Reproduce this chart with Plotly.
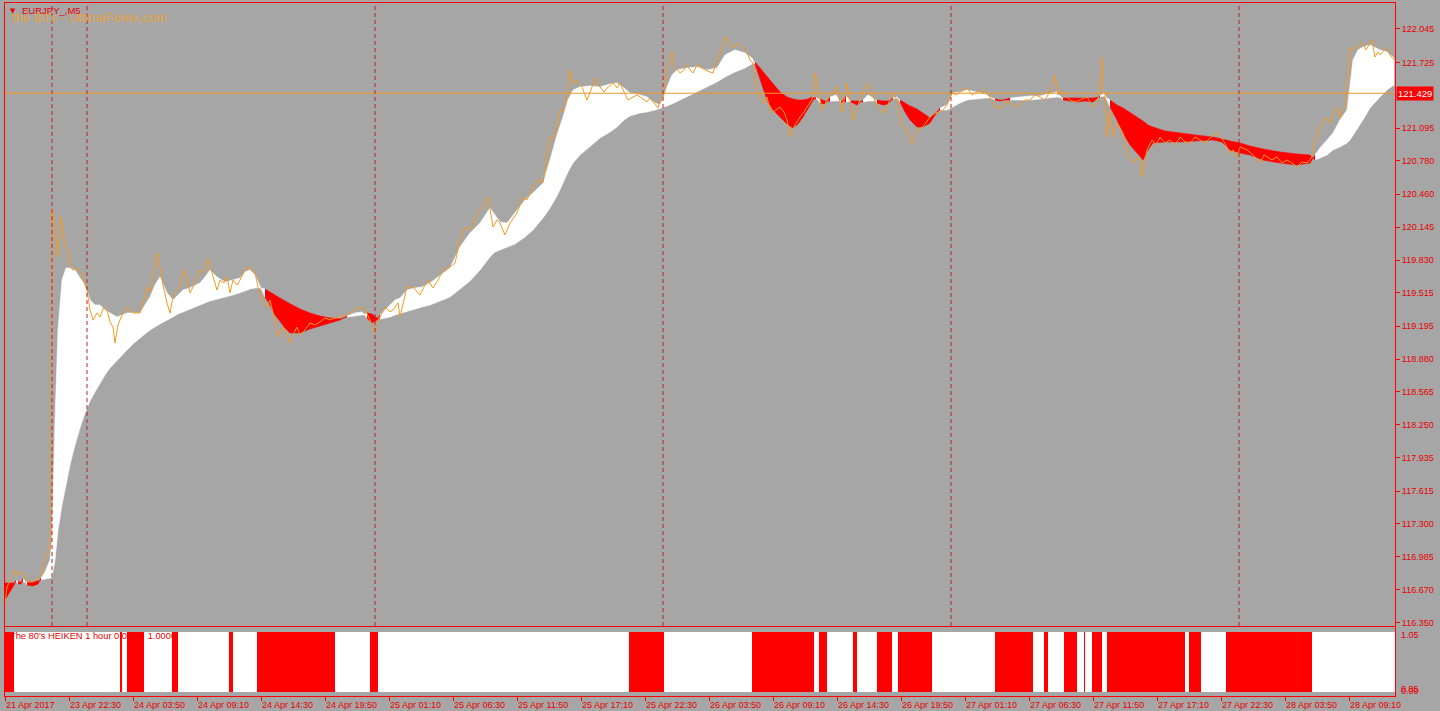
import plotly.graph_objects as go

# ---------------- data ----------------
# bar index (M5 bars, 0 = first bar on the chart) and close price
price_bar = [0, 2, 7, 10, 13, 17, 20, 22, 28, 33,
             37, 38, 42, 45, 46, 47, 48, 51, 53, 56,
             60, 63, 65, 68, 72, 75, 78, 82, 85, 88,
             92, 95, 99, 102, 105, 108, 110, 113, 115, 118,
             122, 128, 135, 139, 142, 145, 149, 152, 155, 158,
             162, 165, 168, 172, 175, 178, 182, 185, 188, 192,
             195, 198, 203, 207, 212, 215, 219, 222, 225, 228,
             232, 235, 240, 245, 250, 253, 258, 262, 265, 268,
             273, 278, 282, 285, 288, 292, 295, 300, 305, 310,
             315, 320, 325, 330, 335, 340, 345, 352, 357, 360,
             365, 368, 370, 373, 375, 380, 385, 388, 393, 395,
             399, 402, 408, 412, 415, 420, 423, 428, 433, 438,
             445, 450, 453, 455, 460, 465, 470, 473, 477, 480,
             483, 485, 488, 492, 495, 500, 505, 512, 515, 518,
             522, 525, 529, 532, 538, 540, 542, 545, 548, 552,
             555, 558, 562, 565, 568, 572, 577, 582, 586, 590,
             595, 599, 602, 608, 612, 615, 619, 623, 628, 632,
             635, 642, 645, 648, 653, 655, 658, 660, 662, 665,
             667, 670, 673, 675, 679, 682, 685, 688, 692, 695,
             700, 705, 708, 712, 715, 720, 725, 728, 732, 737,
             740, 742, 745, 748, 750, 753, 758, 762, 765, 767,
             771, 775, 779, 782, 785, 790, 795, 799, 802, 807,
             810, 813, 817, 822, 828, 832, 837, 842, 845, 848,
             852, 855, 860, 863, 868, 872, 875, 880, 887, 892,
             897, 902, 907, 912, 918, 925, 930, 935, 938, 942,
             947, 951, 955, 962, 967, 972, 978, 985, 990, 995,
             1000, 1005, 1010, 1015, 1020, 1025, 1030, 1035, 1040, 1043,
             1047, 1050, 1053, 1057, 1060, 1065, 1070, 1075, 1082, 1088,
             1093, 1097, 1098, 1100, 1102, 1105, 1108, 1112, 1115, 1118,
             1123, 1128, 1132, 1135, 1137, 1142, 1147, 1151, 1155, 1160,
             1165, 1170, 1175, 1180, 1185, 1190, 1195, 1200, 1205, 1212,
             1218, 1222, 1225, 1228, 1232, 1235, 1242, 1248, 1252, 1255,
             1259, 1262, 1267, 1272, 1277, 1282, 1287, 1292, 1297, 1302,
             1305, 1307, 1308, 1312, 1315, 1320, 1325, 1328, 1332, 1335,
             1338, 1342, 1345, 1348, 1352, 1355, 1358, 1361, 1363, 1367,
             1370, 1373, 1375, 1379, 1382, 1385, 1389]
price_close = [116.541, 116.695, 116.791, 116.858, 116.810, 116.839, 116.791, 116.743, 116.743, 116.781,
               116.810, 116.887, 117.021, 117.078, 117.337, 120.262, 120.310, 120.022, 119.859, 120.242,
               119.955, 119.926, 119.763, 119.734, 119.753, 119.715, 119.638, 119.542, 119.351, 119.255,
               119.322, 119.284, 119.380, 119.351, 119.236, 119.188, 119.034, 119.207, 119.255, 119.322,
               119.380, 119.322, 119.322, 119.447, 119.571, 119.514, 119.734, 119.897, 119.763, 119.590,
               119.418, 119.322, 119.475, 119.542, 119.571, 119.734, 119.638, 119.514, 119.571, 119.657,
               119.734, 119.705, 119.849, 119.705, 119.542, 119.638, 119.610, 119.667, 119.514, 119.638,
               119.590, 119.638, 119.734, 119.763, 119.705, 119.571, 119.418, 119.380, 119.447, 119.322,
               119.092, 119.188, 119.111, 119.034, 119.111, 119.188, 119.111, 119.159, 119.226, 119.207,
               119.236, 119.274, 119.255, 119.274, 119.284, 119.303, 119.322, 119.370, 119.370, 119.351,
               119.255, 119.178, 119.130, 119.236, 119.284, 119.380, 119.332, 119.351, 119.418, 119.284,
               119.447, 119.571, 119.571, 119.523, 119.495, 119.590, 119.638, 119.562, 119.638, 119.734,
               119.763, 119.801, 119.926, 120.022, 120.146, 120.118, 120.214, 120.290, 120.338, 120.377,
               120.434, 120.329, 120.146, 120.214, 120.185, 120.070, 120.185, 120.281, 120.358, 120.434,
               120.405, 120.473, 120.549, 120.597, 120.568, 120.693, 120.818, 121.009, 120.981, 121.105,
               121.268, 121.249, 121.393, 121.652, 121.527, 121.556, 121.489, 121.364, 121.460, 121.575,
               121.489, 121.441, 121.479, 121.527, 121.479, 121.527, 121.441, 121.364, 121.393, 121.412,
               121.393, 121.345, 121.383, 121.345, 121.288, 121.364, 121.393, 121.508, 121.652, 121.748,
               121.824, 121.681, 121.652, 121.623, 121.652, 121.700, 121.652, 121.623, 121.700, 121.681,
               121.652, 121.633, 121.623, 121.748, 121.796, 121.968, 121.892, 121.863, 121.911, 121.872,
               121.844, 121.815, 121.748, 121.719, 121.556, 121.431, 121.335, 121.393, 121.268, 121.240,
               121.268, 121.297, 121.249, 121.173, 121.009, 121.124, 121.201, 121.249, 121.297, 121.364,
               121.623, 121.460, 121.268, 121.364, 121.441, 121.489, 121.249, 121.527, 121.364, 121.173,
               121.288, 121.364, 121.489, 121.527, 121.393, 121.316, 121.268, 121.240, 121.431, 121.364,
               121.105, 121.077, 120.952, 121.077, 121.105, 121.201, 121.240, 121.249, 121.268, 121.316,
               121.431, 121.412, 121.441, 121.479, 121.412, 121.441, 121.460, 121.393, 121.297, 121.288,
               121.335, 121.345, 121.297, 121.316, 121.364, 121.364, 121.412, 121.393, 121.364, 121.412,
               121.508, 121.604, 121.412, 121.460, 121.412, 121.364, 121.345, 121.364, 121.393, 121.297,
               121.345, 121.776, 121.460, 121.431, 121.009, 121.268, 121.009, 121.144, 121.096, 121.048,
               120.818, 120.760, 120.808, 120.789, 120.626, 120.885, 120.981, 120.933, 121.009, 120.952,
               120.981, 120.933, 121.009, 120.962, 120.952, 121.009, 120.981, 120.952, 121.000, 121.048,
               120.981, 120.914, 120.856, 120.885, 120.818, 120.914, 120.885, 120.837, 120.789, 120.760,
               120.837, 120.818, 120.789, 120.818, 120.760, 120.789, 120.760, 120.722, 120.770, 120.760,
               120.789, 120.818, 120.914, 121.029, 121.105, 121.201, 121.144, 121.249, 121.297, 121.192,
               121.240, 121.431, 121.872, 121.844, 121.872, 121.892, 121.911, 121.844, 121.872, 121.939,
               121.776, 121.824, 121.796, 121.844, 121.872, 121.796, 121.748]

# moving-average fan: fastest and slowest average of the ribbon
fan_bar = [0, 5, 9, 11, 13, 16, 18, 22, 28, 33,
           36, 40, 45, 47, 50, 53, 57, 61, 65, 70,
           75, 80, 85, 90, 95, 100, 105, 112, 117, 122,
           128, 135, 140, 145, 150, 155, 162, 168, 173, 178,
           185, 195, 200, 205, 212, 220, 228, 235, 240, 245,
           250, 255, 260, 265, 270, 275, 280, 285, 295, 305,
           315, 325, 335, 342, 350, 357, 362, 367, 372, 375,
           380, 385, 390, 395, 402, 410, 417, 425, 435, 445,
           455, 465, 475, 480, 485, 490, 495, 502, 510, 520,
           528, 538, 545, 552, 558, 563, 568, 575, 585, 595,
           605, 612, 619, 625, 635, 642, 650, 655, 659, 662,
           667, 672, 682, 692, 702, 712, 720, 730, 740, 747,
           750, 755, 762, 768, 775, 782, 788, 793, 798, 803,
           807, 811, 815, 820, 825, 831, 836, 841, 846, 852,
           858, 863, 868, 872, 878, 883, 888, 892, 895, 900,
           905, 912, 918, 925, 930, 935, 942, 948, 955, 962,
           972, 980, 985, 990, 995, 1005, 1015, 1025, 1035, 1045,
           1052, 1058, 1065, 1072, 1080, 1088, 1095, 1099, 1105, 1112,
           1118, 1125, 1132, 1138, 1143, 1148, 1160, 1175, 1190, 1208,
           1217, 1225, 1235, 1245, 1258, 1275, 1292, 1305, 1310, 1315,
           1322, 1328, 1335, 1342, 1345, 1348, 1353, 1358, 1365, 1375,
           1382, 1389]
fan_fast = [116.570, 116.647, 116.714, 116.762, 116.724, 116.724, 116.781, 116.714, 116.705, 116.724,
            116.781, 116.839, 116.954, 117.145, 118.296, 119.159, 119.638, 119.753, 119.753, 119.734,
            119.657, 119.590, 119.447, 119.399, 119.399, 119.351, 119.322, 119.284, 119.303, 119.322,
            119.322, 119.322, 119.399, 119.475, 119.590, 119.667, 119.514, 119.447, 119.495, 119.542,
            119.562, 119.610, 119.667, 119.734, 119.667, 119.619, 119.638, 119.657, 119.715, 119.734,
            119.686, 119.581, 119.475, 119.399, 119.303, 119.236, 119.178, 119.130, 119.130, 119.169,
            119.197, 119.226, 119.255, 119.293, 119.322, 119.332, 119.274, 119.226, 119.255, 119.303,
            119.351, 119.399, 119.447, 119.466, 119.542, 119.562, 119.571, 119.610, 119.686, 119.753,
            119.955, 120.089, 120.185, 120.262, 120.329, 120.262, 120.194, 120.185, 120.281, 120.405,
            120.473, 120.568, 120.789, 121.029, 121.201, 121.364, 121.460, 121.489, 121.498, 121.489,
            121.518, 121.527, 121.479, 121.431, 121.412, 121.393, 121.335, 121.316, 121.393, 121.489,
            121.604, 121.652, 121.671, 121.681, 121.652, 121.671, 121.796, 121.844, 121.815, 121.767,
            121.709, 121.556, 121.364, 121.268, 121.201, 121.134, 121.096, 121.134, 121.201, 121.288,
            121.345, 121.393, 121.335, 121.326, 121.393, 121.412, 121.335, 121.403, 121.345, 121.316,
            121.364, 121.412, 121.383, 121.335, 121.316, 121.326, 121.383, 121.393, 121.345, 121.249,
            121.173, 121.105, 121.105, 121.144, 121.220, 121.288, 121.316, 121.431, 121.441, 121.460,
            121.441, 121.422, 121.393, 121.364, 121.355, 121.383, 121.393, 121.403, 121.403, 121.422,
            121.441, 121.364, 121.355, 121.345, 121.355, 121.345, 121.403, 121.431, 121.297, 121.173,
            121.048, 120.933, 120.856, 120.789, 120.885, 120.952, 120.962, 120.962, 120.971, 120.981,
            120.962, 120.885, 120.856, 120.837, 120.789, 120.760, 120.741, 120.760, 120.837, 120.904,
            120.981, 121.048, 121.173, 121.268, 121.508, 121.748, 121.844, 121.872, 121.892, 121.844,
            121.824, 121.767]
fan_slow = [116.733, 116.733, 116.733, 116.743, 116.743, 116.743, 116.743, 116.743, 116.743, 116.752,
            116.762, 116.772, 116.781, 116.791, 116.954, 117.241, 117.481, 117.673, 117.865, 118.056,
            118.220, 118.363, 118.478, 118.565, 118.651, 118.728, 118.795, 118.871, 118.919, 118.967,
            119.025, 119.082, 119.121, 119.159, 119.188, 119.217, 119.255, 119.284, 119.312, 119.332,
            119.360, 119.399, 119.418, 119.437, 119.456, 119.475, 119.495, 119.514, 119.533, 119.552,
            119.562, 119.562, 119.552, 119.523, 119.495, 119.466, 119.437, 119.408, 119.360, 119.322,
            119.293, 119.274, 119.264, 119.284, 119.293, 119.303, 119.322, 119.312, 119.274, 119.264,
            119.274, 119.284, 119.303, 119.322, 119.341, 119.360, 119.380, 119.399, 119.437, 119.475,
            119.552, 119.629, 119.734, 119.792, 119.859, 119.907, 119.926, 119.955, 119.984, 120.051,
            120.118, 120.233, 120.329, 120.444, 120.568, 120.674, 120.760, 120.837, 120.923, 121.000,
            121.057, 121.105, 121.173, 121.211, 121.240, 121.249, 121.268, 121.288, 121.297, 121.307,
            121.326, 121.345, 121.393, 121.441, 121.489, 121.537, 121.585, 121.633, 121.671, 121.709,
            121.729, 121.671, 121.585, 121.518, 121.441, 121.393, 121.374, 121.364, 121.364, 121.374,
            121.393, 121.374, 121.374, 121.355, 121.355, 121.355, 121.355, 121.345, 121.355, 121.355,
            121.345, 121.355, 121.355, 121.364, 121.355, 121.355, 121.374, 121.383, 121.364, 121.335,
            121.307, 121.278, 121.240, 121.192, 121.240, 121.268, 121.268, 121.297, 121.335, 121.364,
            121.374, 121.383, 121.383, 121.374, 121.364, 121.364, 121.364, 121.364, 121.374, 121.383,
            121.393, 121.383, 121.383, 121.383, 121.383, 121.383, 121.393, 121.403, 121.364, 121.316,
            121.288, 121.240, 121.201, 121.163, 121.124, 121.105, 121.067, 121.048, 121.029, 121.009,
            120.990, 120.971, 120.952, 120.923, 120.894, 120.866, 120.846, 120.837, 120.789, 120.808,
            120.837, 120.885, 120.914, 120.952, 120.981, 121.029, 121.096, 121.173, 121.288, 121.393,
            121.460, 121.508]

# "The 80's HEIKEN 1 hour" sub-window: bars where the signal is red (start, end)
ha_red_start = [0, 115, 122, 167, 224, 252, 365, 624, 747, 814, 848, 872, 893,
                990, 1039, 1059, 1079, 1087, 1102, 1184, 1221]
ha_red_end = [9, 117, 139, 173, 228, 330, 373, 659, 809, 822, 852, 887, 927,
              1028, 1043, 1072, 1080, 1097, 1180, 1196, 1307]

# day separators and the horizontal price line
sep_bar = [47, 82, 370, 658, 946, 1234]
hline_price = 121.429

# axis ticks
y_ticks = [122.045, 121.725, 121.095, 120.780, 120.460, 120.145, 119.830, 119.515, 119.195,
           118.880, 118.565, 118.250, 117.935, 117.615, 117.300, 116.985, 116.670, 116.350]
x_tick_bar = [0, 64, 128, 192, 256, 320, 384, 448, 512, 576, 640,
              704, 768, 832, 896, 960, 1024, 1088, 1152, 1216, 1280, 1344]
x_tick_text = ["21 Apr 2017", "23 Apr 22:30", "24 Apr 03:50", "24 Apr 09:10", "24 Apr 14:30",
               "24 Apr 19:50", "25 Apr 01:10", "25 Apr 06:30", "25 Apr 11:50", "25 Apr 17:10",
               "25 Apr 22:30", "26 Apr 03:50", "26 Apr 09:10", "26 Apr 14:30", "26 Apr 19:50",
               "27 Apr 01:10", "27 Apr 06:30", "27 Apr 11:50", "27 Apr 17:10", "27 Apr 22:30",
               "28 Apr 03:50", "28 Apr 09:10"]

assert len(price_bar) == len(price_close)
assert len(fan_bar) == len(fan_fast) == len(fan_slow)

# ---------------- styling ----------------
BG = "#A6A6A6"
RED = "#FF0000"
TXT_RED = "#E80000"
WHITE = "#FFFFFF"
ORANGE = "#F39A22"
SEP = "#C41E1E"
FONT = "Liberation Sans"

fig = go.Figure()

# ribbon fill, coloured by trend (fast above slow = white, below = red)
n = len(fan_bar)
up = [f >= s for f, s in zip(fan_fast, fan_slow)]
i = 0
while i < n - 1:
    j = i
    while j + 1 < n - 1 and up[j + 1] == up[i]:
        j += 1
    idx = list(range(i, j + 2))
    xs = [fan_bar[k] for k in idx] + [fan_bar[k] for k in reversed(idx)]
    ys = [fan_fast[k] for k in idx] + [fan_slow[k] for k in reversed(idx)]
    col = WHITE if up[i] else RED
    fig.add_trace(go.Scatter(x=xs, y=ys, mode="lines", fill="toself", fillcolor=col,
                             line=dict(color=col, width=0.6), hoverinfo="skip",
                             showlegend=False, xaxis="x", yaxis="y"))
    i = j + 1

# price line
fig.add_trace(go.Scatter(x=price_bar, y=price_close, mode="lines",
                         line=dict(color=ORANGE, width=1), hoverinfo="skip",
                         showlegend=False, xaxis="x", yaxis="y"))

# sub-window red blocks
fig.add_trace(go.Bar(x=[(s + e) / 2 for s, e in zip(ha_red_start, ha_red_end)],
                     y=[1] * len(ha_red_start),
                     width=[e - s for s, e in zip(ha_red_start, ha_red_end)],
                     base=0, marker=dict(color=RED, line=dict(width=0)),
                     hoverinfo="skip", showlegend=False, xaxis="x2", yaxis="y2"))

shapes = []
# white background of the sub-window signal area
shapes.append(dict(type="rect", xref="x2 domain", yref="y2", x0=0, x1=1, y0=0, y1=1,
                   fillcolor=WHITE, line=dict(width=0), layer="below"))
# horizontal line
shapes.append(dict(type="line", xref="x domain", yref="y", x0=0, x1=1,
                   y0=hline_price, y1=hline_price, line=dict(color=ORANGE, width=1), layer="above"))
# day separators
for b in sep_bar:
    shapes.append(dict(type="line", xref="x", yref="y domain", x0=b, x1=b, y0=0, y1=1,
                       line=dict(color=SEP, width=1, dash="4px,3px"), layer="above"))

annotations = []
# bottom time labels (left aligned at the tick like the terminal does)
for b, t in zip(x_tick_bar, x_tick_text):
    annotations.append(dict(xref="x2", yref="paper", x=b, y=-0.013, text=t, showarrow=False,
                            xanchor="left", yanchor="middle", xshift=-1,
                            font=dict(family=FONT, size=9, color=TXT_RED)))
# current price label
annotations.append(dict(xref="x domain", yref="y", x=1, y=hline_price, text=f"{hline_price:.3f}",
                        showarrow=False, xanchor="left", yanchor="middle", xshift=1,
                        bgcolor=RED, borderpad=1,
                        font=dict(family=FONT, size=9.5, color=WHITE)))
# sub-window scale labels
for txt, yy in [("1.05", 0.884), ("0.05", 0.101), ("0.00", 0.072)]:
    annotations.append(dict(xref="x2 domain", yref="y2 domain", x=1, y=yy, text=txt,
                            showarrow=False, xanchor="left", yanchor="middle", xshift=4,
                            font=dict(family=FONT, size=9, color=TXT_RED)))
# sub-window title
annotations.append(dict(xref="x2 domain", yref="y2 domain", x=0.0025, y=0.87,
                        text="The 80's HEIKEN 1 hour 0.0000  1.0000", showarrow=False,
                        xanchor="left", yanchor="middle",
                        font=dict(family=FONT, size=9.3, color=TXT_RED)))
# chart title texts
annotations.append(dict(xref="paper", yref="paper", x=0.0036, y=0.979,
                        text="the 80's - UltimaForex.com", showarrow=False,
                        xanchor="left", yanchor="middle",
                        font=dict(family=FONT, size=13, color="#E9A23E")))
annotations.append(dict(xref="paper", yref="paper", x=0.0022, y=0.9885, text="▼",
                        showarrow=False, xanchor="left", yanchor="middle",
                        font=dict(family="DejaVu Sans", size=7, color=TXT_RED)))
annotations.append(dict(xref="paper", yref="paper", x=0.0108, y=0.9885, text="EURJPY_,M5",
                        showarrow=False, xanchor="left", yanchor="middle",
                        font=dict(family=FONT, size=9.5, color=TXT_RED)))

main_dom = [(696 - 626) / 693, 1.0]
sub_dom = [0.0, (696 - 627) / 693]

fig.update_layout(
    width=1440, height=711,
    margin=dict(l=5, r=45, t=3, b=15),
    paper_bgcolor=BG, plot_bgcolor=BG,
    showlegend=False, hovermode=False,
    font=dict(family=FONT, size=9, color=TXT_RED),
    xaxis=dict(domain=[0, 1], anchor="y", range=[0, 1390], showgrid=False, zeroline=False,
               showticklabels=False, ticks="", showline=True, mirror=True,
               linecolor=RED, linewidth=1, fixedrange=True),
    yaxis=dict(domain=main_dom, anchor="x", side="right", range=[116.321, 122.294],
               tickvals=y_ticks, ticktext=[f"{v:.3f}" for v in y_ticks],
               ticks="outside", ticklen=4, tickcolor=RED, tickwidth=1,
               tickfont=dict(family=FONT, size=9, color=TXT_RED),
               showgrid=False, zeroline=False, showline=True, mirror=True,
               linecolor=RED, linewidth=1, fixedrange=True),
    xaxis2=dict(domain=[0, 1], anchor="y2", range=[0, 1390], matches="x",
                tickvals=x_tick_bar, showticklabels=False, ticks="outside", ticklen=4,
                tickcolor=RED, tickwidth=1, showgrid=False, zeroline=False,
                showline=True, mirror=True, linecolor=RED, linewidth=1, fixedrange=True),
    yaxis2=dict(domain=sub_dom, anchor="x2", side="right", range=[-0.0667, 1.0833],
                showticklabels=False, ticks="", showgrid=False, zeroline=False,
                showline=True, mirror=True, linecolor=RED, linewidth=1, fixedrange=True),
    bargap=0,
    shapes=shapes,
    annotations=annotations,
)

# the page's default body margin would shift the figure; remove it
page_js = ("document.body.style.margin='0px';document.body.style.padding='0px';"
           "document.body.style.overflow='hidden';"
           f"document.body.style.background='{BG}';")
fig.write_html("out.html", post_script=page_js, config={"displayModeBar": False})
